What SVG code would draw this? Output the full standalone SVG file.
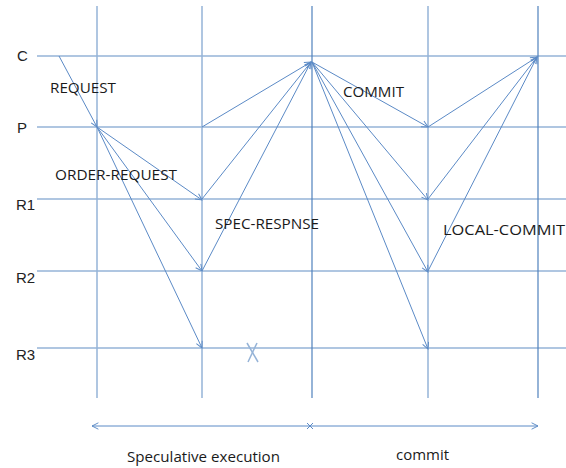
<svg xmlns="http://www.w3.org/2000/svg" width="566" height="468" viewBox="0 0 566 468">
<style>
.grid{stroke:#95b3d7;stroke-width:1.5;fill:none}
.gridd{stroke:#4f81bd;stroke-width:1.2;fill:none}
.msg{stroke:#5b8ac6;stroke-width:1;fill:none;marker-end:url(#ah)}
.lbl{font-family:"Liberation Sans",Arial,sans-serif;font-size:15px;fill:#222}
.t{font-family:"Open Sans","Liberation Sans",sans-serif;font-size:14px;fill:#1a1a1a}
</style>
<defs>
<marker id="ah" viewBox="0 0 10 10" refX="9" refY="5" markerWidth="8" markerHeight="8" orient="auto" markerUnits="userSpaceOnUse">
<path d="M1,1 L9,5 L1,9" fill="none" stroke="#5b8ac6" stroke-width="1.2"/>
</marker>
</defs>
<rect width="566" height="468" fill="#ffffff"/>
<g id="grid">
<line class="grid" x1="37" y1="56" x2="566" y2="56"/>
<line class="grid" x1="37" y1="127" x2="566" y2="127"/>
<line class="grid" x1="37" y1="199" x2="566" y2="199"/>
<line class="grid" x1="37" y1="271" x2="566" y2="271"/>
<line class="grid" x1="37" y1="348" x2="566" y2="348"/>
<line class="grid" x1="97" y1="6" x2="97" y2="398"/>
<line class="grid" x1="202" y1="6" x2="202" y2="398"/>
<line class="gridd" x1="312" y1="6" x2="312" y2="398"/>
<line class="grid" x1="428" y1="6" x2="428" y2="398"/>
<line class="gridd" x1="538" y1="6" x2="538" y2="398"/>
</g>
<g id="node-C"><text class="lbl" x="17" y="61">C</text></g>
<g id="node-P"><text class="lbl" x="17" y="133">P</text></g>
<g id="node-R1"><text class="lbl" x="16" y="210">R1</text></g>
<g id="node-R2"><text class="lbl" x="16" y="283">R2</text></g>
<g id="node-R3"><text class="lbl" x="16" y="360">R3</text></g>
<g id="connectors">
<line class="msg" x1="59" y1="56" x2="97" y2="127"/>
<line class="msg" x1="97" y1="127" x2="202" y2="200"/>
<line class="msg" x1="97" y1="127" x2="202" y2="271"/>
<line class="msg" x1="97" y1="127" x2="202" y2="348"/>
<line class="msg" x1="202" y1="127" x2="311" y2="62"/>
<line class="msg" x1="202" y1="199" x2="311" y2="62"/>
<line class="msg" x1="202" y1="271" x2="311" y2="62"/>
<line class="msg" x1="312" y1="62" x2="428" y2="127"/>
<line class="msg" x1="312" y1="62" x2="428" y2="200"/>
<line class="msg" x1="312" y1="62" x2="428" y2="272"/>
<line class="msg" x1="312" y1="62" x2="428" y2="349"/>
<line class="msg" x1="428" y1="127" x2="537" y2="57"/>
<line class="msg" x1="428" y1="199" x2="537" y2="57"/>
<line class="msg" x1="428" y1="271" x2="537" y2="57"/>
<line class="grid" x1="247" y1="343" x2="258" y2="362"/>
<line class="grid" x1="257" y1="343" x2="248" y2="362"/>
<line class="msg" x1="310" y1="426" x2="92" y2="426"/>
<line class="msg" x1="310" y1="426" x2="538" y2="426"/>
<path d="M307,423 L313,429 M313,423 L307,429" stroke="#5b8ac6" stroke-width="1" fill="none"/>
</g>
<g id="labels">
<text class="t" x="50" y="93" textLength="66" lengthAdjust="spacingAndGlyphs">REQUEST</text>
<text class="t" x="55" y="180" textLength="122" lengthAdjust="spacingAndGlyphs">ORDER-REQUEST</text>
<text class="t" x="215" y="229" textLength="104" lengthAdjust="spacingAndGlyphs">SPEC-RESPNSE</text>
<text class="t" x="343" y="97" textLength="61" lengthAdjust="spacingAndGlyphs">COMMIT</text>
<text class="t" x="443" y="235" textLength="122" lengthAdjust="spacingAndGlyphs">LOCAL-COMMIT</text>
<text class="t" x="127" y="462" textLength="153" lengthAdjust="spacingAndGlyphs">Speculative execution</text>
<text class="t" x="396" y="460" textLength="53" lengthAdjust="spacingAndGlyphs">commit</text>
</g>
</svg>
